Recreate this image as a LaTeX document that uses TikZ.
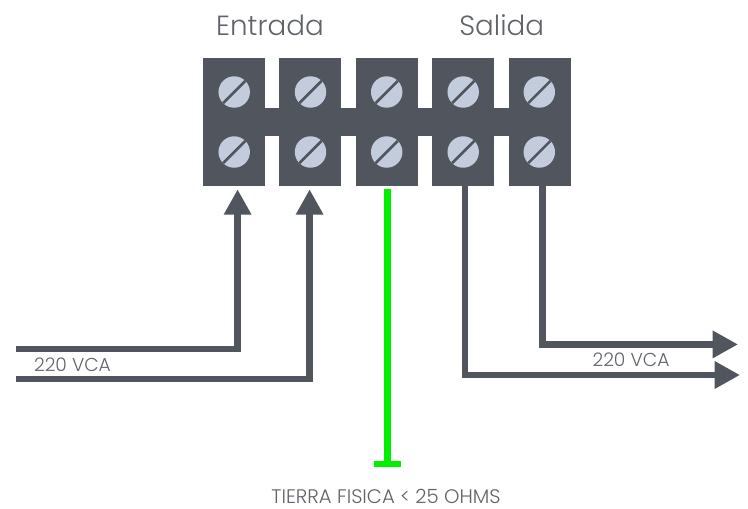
\documentclass[tikz,border=0pt]{standalone}
\usepackage{fontspec}
\setmainfont{Poppins Light}
\usetikzlibrary{arrows.meta}
\definecolor{blockgray}{RGB}{80,85,94}
\definecolor{screwblue}{RGB}{195,204,220}
\definecolor{textgray}{RGB}{96,99,106}
\definecolor{groundgreen}{RGB}{0,240,0}
\tikzset{
  block/.style={fill=blockgray,inner sep=0pt,minimum width=46.5pt,minimum height=96.5pt},
  linkbar/.style={fill=blockgray,inner sep=0pt,minimum width=275pt,minimum height=20.8pt},
  screw/.style={circle,fill=screwblue,inner sep=0pt,minimum size=23.6pt,
    path picture={\draw[blockgray,line width=1.9pt] (path picture bounding box.south west) -- (path picture bounding box.north east);}},
  wire/.style={blockgray,line width=4.7pt,line join=miter},
  arrowwire/.style={wire,-{Triangle[length=19pt,width=19.5pt]}},
  groundwire/.style={groundgreen,line width=4.8pt},
  title/.style={textgray,font=\fontsize{20.8}{24}\selectfont,inner sep=0pt,anchor=base},
  caption/.style={textgray,font=\fontsize{14}{17}\selectfont,inner sep=0pt,anchor=base},
  groundnote/.style={textgray,font=\fontsize{14.7}{17}\selectfont,inner sep=0pt,anchor=base}
}

\begin{document}
\begin{tikzpicture}[x=0.75pt,y=0.75pt,yscale=-1,xscale=1]
\useasboundingbox (0,0) rectangle (748,508);

%Shape: terminal blocks
\node [linkbar] (bar) at (387,122.2) {};
\node [block] (blocka) at (234.2,122) {};
\node [block] (blockb) at (310.3,122) {};
\node [block] (blockc) at (387,122) {};
\node [block] (blockd) at (463.2,122) {};
\node [block] (blocke) at (539.6,122) {};

%Shape: screws
\node [screw] (screwa) at (234.2,92) {};
\node [screw] (screwb) at (310.5,92) {};
\node [screw] (screwc) at (386.7,92) {};
\node [screw] (screwd) at (463.2,92) {};
\node [screw] (screwe) at (539.3,92) {};
\node [screw] (screwf) at (234.2,152) {};
\node [screw] (screwg) at (310.5,152) {};
\node [screw] (screwh) at (386.7,152) {};
\node [screw] (screwi) at (463.2,152) {};
\node [screw] (screwj) at (539.3,152) {};

%Free ends of the wires
\coordinate (ina) at (16,349);
\coordinate (inb) at (16,379);
\coordinate (tipa) at (237.6,189.3);
\coordinate (tipb) at (309.6,189.3);
\coordinate (outd) at (465.2,186);
\coordinate (oute) at (542.6,186);
\coordinate (tipd) at (740,375);
\coordinate (tipe) at (738,344.4);
\coordinate (groundtop) at (387.3,189);
\coordinate (groundend) at (387.3,464);
\coordinate (barleft) at (374,464);
\coordinate (barright) at (400.8,464);

%Straight Lines
\draw [arrowwire] (ina) -| (tipa);
\draw [arrowwire] (inb) -| (tipb);
\draw [arrowwire] (outd) |- (tipd);
\draw [arrowwire] (oute) |- (tipe);
\draw [groundwire] (groundtop) -- (groundend);
\draw [groundwire] (barleft) -- (barright);

% Text Node
\node [title] (entrada) at (270,35) {Entrada};
% Text Node
\node [title] (salida) at (501.7,35) {Salida};
% Text Node
\node [caption] (vcaleft) at (72.5,371.7) {220 VCA};
% Text Node
\node [caption] (vcaright) at (631,366.7) {220 VCA};
% Text Node
\node [groundnote] (tierra) at (386,503.5) {TIERRA FISICA < 25 OHMS};

\end{tikzpicture}
\end{document}
